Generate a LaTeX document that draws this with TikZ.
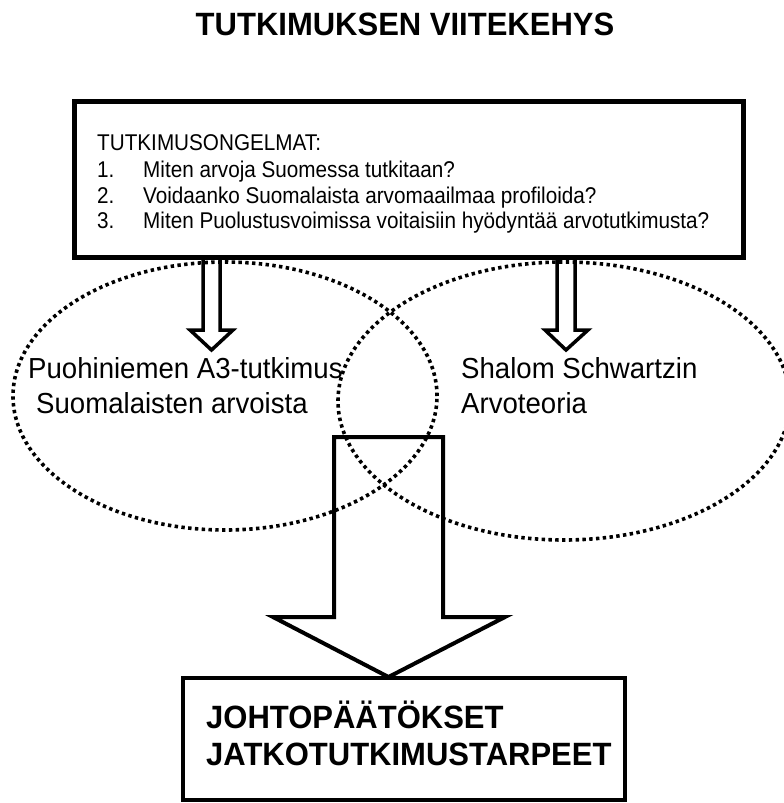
\documentclass[tikz,border=0pt]{standalone}
\usepackage{fontspec}
\setmainfont{Liberation Sans}
\usetikzlibrary{shapes.geometric}
\begin{document}
\begin{tikzpicture}[x=1pt,y=-1pt,
  dotline/.style={draw, dash pattern=on 3.4pt off 3.4pt, line width=3.6pt, inner sep=0pt, ellipse},
  frame/.style={draw, line width=5pt, inner sep=0pt},
  smallarrow/.style={draw, line width=3.5pt, miter limit=20},
  bigarrow/.style={draw, line width=4pt, miter limit=20},
  txt/.style={anchor=base west, inner sep=0pt, yscale=1.1, font=\fontsize{20.7}{25}\selectfont},
  lbl/.style={anchor=base west, inner sep=0pt, yscale=1.05, font=\fontsize{27.6}{33}\selectfont},
  hd/.style={anchor=base west, inner sep=0pt, yscale=1.04, font=\bfseries\fontsize{31}{37}\selectfont}]
\useasboundingbox (0,0) rectangle (784,803);

% title
\node[anchor=base, inner sep=0pt, yscale=1.04, font=\bfseries\fontsize{31}{37}\selectfont] (title) at (405,35) {TUTKIMUKSEN VIITEKEHYS};

% ellipses
\node[dotline, minimum width=424pt, minimum height=268pt] (left) at (225,396) {};
\node[dotline, minimum width=452pt, minimum height=278pt] (right) at (564,401) {};

% research problems box
\node[frame, minimum width=669pt, minimum height=156pt] (problems) at (408.5,179) {};
\node[txt] (p0) at (97,150) {TUTKIMUSONGELMAT:};
\node[txt] (n1) at (97,177) {1.};
\node[txt] (p1) at (143,177) {Miten arvoja Suomessa tutkitaan?};
\node[txt] (n2) at (97,203) {2.};
\node[txt] (p2) at (143,203) {Voidaanko Suomalaista arvomaailmaa profiloida?};
\node[txt] (n3) at (97,228) {3.};
\node[txt] (p3) at (143,228) {Miten Puolustusvoimissa voitaisiin hyödyntää arvotutkimusta?};

% small block arrows from the box into the ellipses
\coordinate (la) at (211.5,350);
\coordinate (ra) at (566,350);
\draw[smallarrow] (203,257) -- (203,330) -- (190,330) -- (la) -- (233,330) -- (220,330) -- (220,257);
\draw[smallarrow] (557,257) -- (557,330) -- (545,330) -- (ra) -- (588,330) -- (575,330) -- (575,257);

% ellipse labels
\node[lbl] (l1) at (28,378) {Puohiniemen A3-tutkimus};
\node[lbl] (l2) at (36,413) {Suomalaisten arvoista};
\node[lbl] (r1) at (461,378) {Shalom Schwartzin};
\node[lbl] (r2) at (461,413) {Arvoteoria};

% conclusions box
\node[draw, line width=4pt, inner sep=0pt, minimum width=442pt, minimum height=122pt] (concl) at (404,739) {};
\node[hd] (c1) at (206,728) {JOHTOPÄÄTÖKSET};
\node[hd] (c2) at (206,765) {JATKOTUTKIMUSTARPEET};

% big block arrow
\coordinate (tip) at (388.5,677);
\draw[bigarrow] (334,437) -- (334,617) -- (273,617) -- (tip) -- (505,617) -- (443,617) -- (443,437) -- cycle;
\end{tikzpicture}
\end{document}
